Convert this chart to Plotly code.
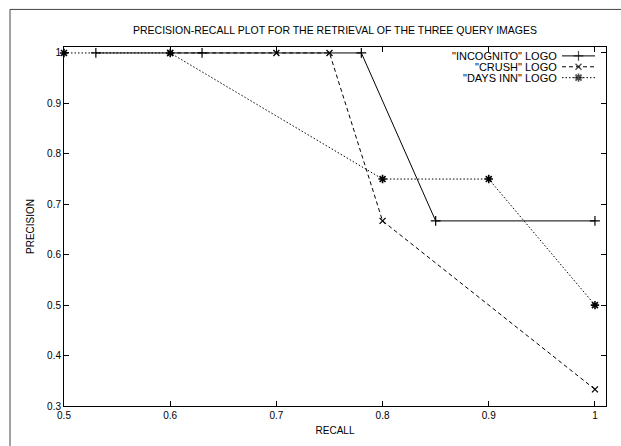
import plotly.graph_objects as go

# Data
inc_recall = [0.53, 0.63, 0.78, 0.85, 1.0]
inc_prec = [1.0, 1.0, 1.0, 0.667, 0.667]
crush_recall = [0.6, 0.7, 0.75, 0.8, 1.0]
crush_prec = [1.0, 1.0, 1.0, 0.667, 0.333]
days_recall = [0.5, 0.6, 0.8, 0.9, 1.0]
days_prec = [1.0, 1.0, 0.75, 0.75, 0.5]

series_names = ['"INCOGNITO" LOGO', '"CRUSH" LOGO', '"DAYS INN" LOGO']
x_ticks = [0.5, 0.6, 0.7, 0.8, 0.9, 1.0]
x_tick_text = ["0.5", "0.6", "0.7", "0.8", "0.9", "1"]
y_ticks = [0.3, 0.4, 0.5, 0.6, 0.7, 0.8, 0.9, 1.0]
y_tick_text = ["0.3", "0.4", "0.5", "0.6", "0.7", "0.8", "0.9", "1"]

FONT = "Liberation Sans, Arial, sans-serif"
styles = [
    dict(dash="solid", symbol="cross-thin-open", size=7, lw=1.2),
    dict(dash="4px,3px", symbol="x-thin-open", size=6, lw=1.3),
    dict(dash="1.5px,2px", symbol="asterisk-open", size=7, lw=1.6),
]
data = [(inc_recall, inc_prec), (crush_recall, crush_prec), (days_recall, days_prec)]

fig = go.Figure()
for (xs, ys), st, nm in zip(data, styles, series_names):
    fig.add_trace(go.Scatter(
        x=xs, y=ys, mode="lines+markers", name=nm, showlegend=False,
        line=dict(color="black", width=1, dash=st["dash"]),
        marker=dict(symbol=st["symbol"], size=st["size"], color="black",
                    line=dict(color="black", width=st["lw"])),
        cliponaxis=False,
    ))

# custom gnuplot-style key (text then sample)
L, R, T, B = 64, 15, 47, 36
W, H = 621, 446
pw, ph = W - L - R, H - T - B
def px2x(p): return (p - L) / pw
def py2y(p): return (H - B - p) / ph

rows = [56, 67, 78]
for st, nm, ry in zip(styles, series_names, rows):
    yy = py2y(ry)
    fig.add_trace(go.Scatter(
        x=[px2x(562), px2x(578.5), px2x(595)], y=[yy, yy, yy],
        xaxis="x2", yaxis="y2", mode="lines+markers", showlegend=False,
        line=dict(color="black", width=1, dash=st["dash"]),
        marker=dict(symbol=st["symbol"], size=[0, st["size"], 0], color="black",
                    line=dict(color="black", width=st["lw"])),
        hoverinfo="skip", cliponaxis=False,
    ))
    fig.add_annotation(x=px2x(559), y=yy, xref="paper", yref="paper",
                       text=nm, showarrow=False, xanchor="right", yanchor="middle",
                       font=dict(family=FONT, size=11, color="black"))

# outer border
fig.add_shape(type="rect", xref="paper", yref="paper",
              x0=px2x(10), x1=px2x(640), y0=py2y(470), y1=py2y(9),
              line=dict(color="#444", width=1), layer="below")

axis_common = dict(showgrid=False, zeroline=False, showline=True, linecolor="black",
                   linewidth=1, mirror="ticks", ticks="inside", ticklen=5,
                   tickcolor="black", tickfont=dict(family=FONT, size=10, color="black"))
fig.update_layout(
    width=W, height=H,
    margin=dict(l=L, r=R, t=T, b=B),
    paper_bgcolor="white", plot_bgcolor="white",
    title=dict(text="PRECISION-RECALL PLOT FOR THE RETRIEVAL OF THE THREE QUERY IMAGES",
               x=px2x(335) * pw / W + L / W, xanchor="center", y=1 - 30 / H, yanchor="middle",
               font=dict(family=FONT, size=10.5, color="black")),
    xaxis=dict(range=[0.5, 1.0104], tickvals=x_ticks, ticktext=x_tick_text,
               title=dict(text="RECALL", font=dict(family=FONT, size=10, color="black"), standoff=6),
               **axis_common),
    yaxis=dict(range=[0.3, 1.0118], tickvals=y_ticks, ticktext=y_tick_text,
               title=dict(text="PRECISION", font=dict(family=FONT, size=10, color="black"), standoff=10),
               **axis_common),
    xaxis2=dict(range=[0, 1], overlaying="x", visible=False, fixedrange=True),
    yaxis2=dict(range=[0, 1], overlaying="y", visible=False, fixedrange=True),
)
fig.write_html("out.html")
